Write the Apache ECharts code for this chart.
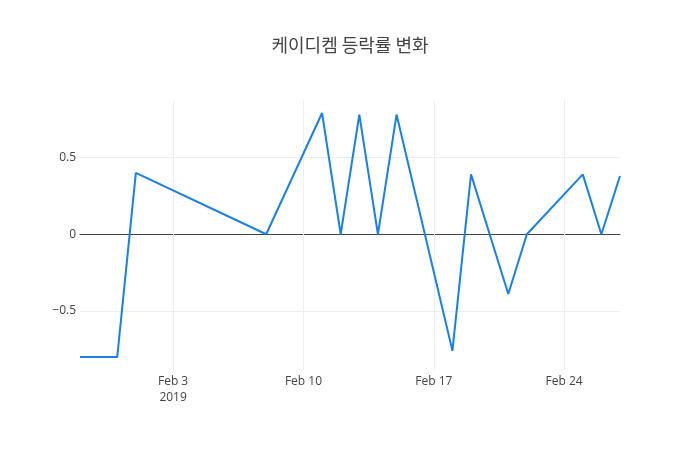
<!DOCTYPE html>
<html>
<head>
<meta charset="utf-8">
<script src="https://cdn.jsdelivr.net/npm/echarts@6/dist/echarts.min.js"></script>
<style>html,body{margin:0;padding:0;background:#fff}#c{width:700px;height:450px}</style>
</head>
<body>
<div id="c"></div>
<script>
var dates = ['2019-01-29','2019-01-30','2019-01-31','2019-02-01','2019-02-08','2019-02-11','2019-02-12','2019-02-13','2019-02-14','2019-02-15','2019-02-18','2019-02-19','2019-02-21','2019-02-22','2019-02-25','2019-02-26','2019-02-27'];
var changes = [-0.8,-0.8,-0.8,0.4,0,0.79,0,0.78,0,0.78,-0.76,0.39,-0.39,0,0.39,0,0.38];
var xTickDates = ['2019-02-03','2019-02-10','2019-02-17','2019-02-24'];
var xTickLabels = ['Feb 3\n2019','Feb 10','Feb 17','Feb 24'];
var yTickValues = [-0.5, 0, 0.5];
var yTickLabels = ['\u22120.5','0','0.5'];

var DAY = 86400000;
var anchor = Date.UTC(2019,0,29);
function dayOf(s){var p=s.split('-');return Math.round((Date.UTC(+p[0],+p[1]-1,+p[2])-anchor)/DAY);}
var pts = dates.map(function(d,i){return [dayOf(d), changes[i]];});
var xTickDays = xTickDates.map(dayOf);
var xMax = dayOf(dates[dates.length-1]);

var gridLines = [];
xTickDays.forEach(function(d){gridLines.push({xAxis:d});});
yTickValues.forEach(function(v){if(v!==0) gridLines.push({yAxis:v});});

var chart = echarts.init(document.getElementById('c'));
chart.setOption({
  animation:false,
  backgroundColor:'#fff',
  title:{text:'케이디켐 등락률 변화',left:'center',top:31,textStyle:{fontFamily:'"Noto Sans CJK KR","Open Sans",sans-serif',fontSize:18,fontWeight:'normal',color:'#444'}},
  grid:{left:80,right:80,top:100,bottom:80},
  xAxis:{type:'value',min:0,max:xMax,interval:1,z:3,
    axisLine:{show:true,onZero:true,lineStyle:{color:'#444',width:1}},
    axisTick:{show:false},
    axisLabel:{color:'#444',fontFamily:'"Open Sans",sans-serif',fontSize:12,margin:4,lineHeight:16,
      formatter:function(v){var i=xTickDays.indexOf(Math.round(v));return (i>=0&&Math.abs(v-Math.round(v))<1e-6)?xTickLabels[i]:'';}},
    splitLine:{show:false}
  },
  yAxis:{type:'value',min:-0.885,max:0.875,interval:0.005,
    axisLine:{show:false},axisTick:{show:false},
    axisLabel:{color:'#444',fontFamily:'"Open Sans",sans-serif',fontSize:12,margin:4,
      formatter:function(v){for(var i=0;i<yTickValues.length;i++){if(Math.abs(v-yTickValues[i])<1e-6)return yTickLabels[i];}return '';}},
    splitLine:{show:false}
  },
  series:[
    {type:'line',data:[],z:1,silent:true,
      markLine:{silent:true,symbol:['none','none'],label:{show:false},animation:false,
        lineStyle:{color:'#eee',width:1,type:'solid'},emphasis:{disabled:true},data:gridLines}},
    {type:'line',data:pts,showSymbol:false,symbol:'none',lineStyle:{color:'#1a80e8',width:2},z:5}
  ]
});
</script>
</body>
</html>
